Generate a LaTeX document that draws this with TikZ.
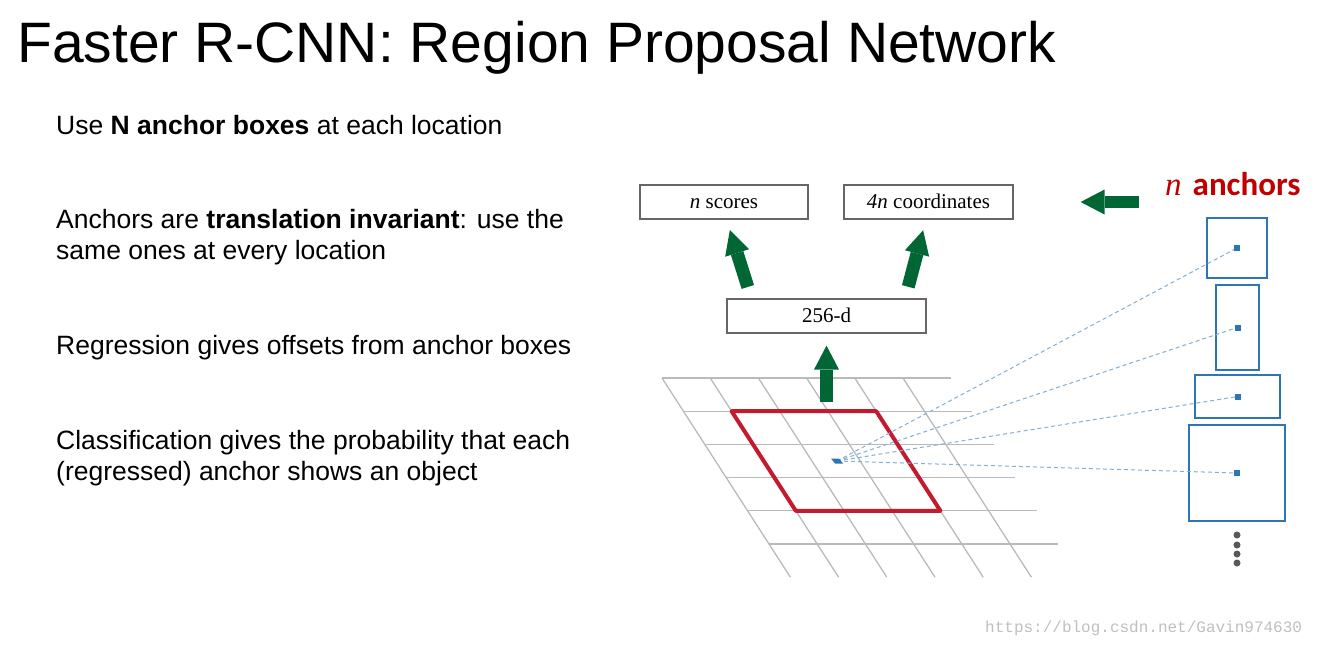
\documentclass[tikz,border=0pt]{standalone}
\usepackage{fontspec}
\setmainfont{Liberation Sans}
\newfontfamily\timesfont{Liberation Serif}
\newfontfamily\calibrifont{Carlito}
\newfontfamily\markfont{Liberation Mono}
\usepackage{tikz}
\usetikzlibrary{arrows.meta}
\usetikzlibrary{calc}
\definecolor{arrowgreen}{RGB}{0,102,51}
\definecolor{anchorred}{RGB}{192,0,0}
\definecolor{boxblue}{RGB}{46,117,182}
\definecolor{gridred}{RGB}{196,26,48}
\definecolor{dashblue}{RGB}{130,175,210}
\tikzset{
 outbox/.style={draw=black!60,line width=1.2pt,minimum height=34pt,inner sep=0pt,
  text height=14pt,text depth=2pt,font=\timesfont\fontsize{21}{24}\selectfont},
 anchorbox/.style={draw=boxblue,line width=1.5pt,inner sep=0pt},
 fatarrow/.style={draw=arrowgreen,line width=13pt,
  -{Triangle[width=25pt,length=24pt,line width=0pt]}},
 txt/.style={anchor=base west,inner sep=0pt,font=\fontsize{26.5}{31}\selectfont},
 gridline/.style={draw=black!27,line width=1.3pt}
}
\begin{document}
\begin{tikzpicture}[x=1pt,y=-1pt]
 \useasboundingbox (0,0) rectangle (1317,646);
 % title and bullet text
 \node[anchor=base west,inner sep=0pt,font=\fontsize{57}{60}\selectfont] (title) at (17,62) {Faster R-CNN: Region Proposal Network};
 \node[txt] (l1) at (56,134.5) {Use \textbf{N anchor boxes} at each location};
 \node[txt] (l2) at (56,228.5) {Anchors are \textbf{translation invariant}: use the};
 \node[txt] (l3) at (56,259.5) {same ones at every location};
 \node[txt] (l4) at (56,354.5) {Regression gives offsets from anchor boxes};
 \node[txt] (l5) at (56,449.5) {Classification gives the probability that each};
 \node[txt] (l6) at (56,480.5) {(regressed) anchor shows an object};

 % feature map
 \foreach \v in {0,...,5}
  \draw[gridline] ({662+21.4*\v},{378+33.2*\v}) -- ++(289,0);
 \foreach \u in {0,...,5}
  \draw[gridline] ({662+48.2*\u},378) -- ++(128.4,199.2);
 \draw[gridred,line width=4pt,line join=round] (731.6,411.2) -- (876.2,411.2) -- (940.4,510.8) -- (795.8,510.8) -- cycle;

 % anchor boxes
 \node[anchorbox,minimum width=60pt,minimum height=60pt] (a1) at (1237,248) {};
 \node[anchorbox,minimum width=43pt,minimum height=85pt] (a2) at (1237.5,327.5) {};
 \node[anchorbox,minimum width=85pt,minimum height=43pt] (a3) at (1237.5,396.5) {};
 \node[anchorbox,minimum width=96pt,minimum height=96pt] (a4) at (1237,473) {};
 \coordinate (ctr) at (837,461);
 \foreach \a in {a1,a2,a3,a4}
  \draw[dashblue,line width=1pt,dash pattern=on 4pt off 3pt] (ctr) -- (\a.center);
 \foreach \a in {a1,a2,a3,a4}
  \fill[boxblue] ($(\a.center)+(-3,-3)$) rectangle ++(6,6);
 \fill[boxblue] (831,458.5) -- (839,458.5) -- (843,463.5) -- (835,463.5) -- cycle;
 \foreach \y in {535,545,554,563}
  \fill[black!65] (1237,\y) circle (3.5pt);

 % outputs
 \node[outbox,minimum width=168pt] (scores) at (724,202) {\textit{n} scores};
 \node[outbox,minimum width=169pt] (coords) at (928.5,202) {\textit{4n} coordinates};
 \node[outbox,minimum width=199pt] (dim) at (826.5,316) {256-d};
 \draw[fatarrow,shorten <=12pt,shorten >=11pt] ($(dim.north west)!0.125!(dim.north east)$) -- ($(scores.south west)!0.515!(scores.south east)$);
 \draw[fatarrow,shorten <=12pt,shorten >=11pt] ($(dim.north west)!0.893!(dim.north east)$) -- ($(coords.south west)!0.485!(coords.south east)$);
 \coordinate (cell) at (826.5,402);
 \draw[fatarrow,shorten >=12pt] (cell) -- (dim.south);

 \node[anchor=base west,inner sep=0pt,text=anchorred] (nanch) at (1165,195)
  {\fontsize{33}{36}\selectfont{\timesfont\itshape n}\hspace{11pt}{\calibrifont\bfseries anchors}};
 \draw[fatarrow,line width=12pt,shorten >=67pt] ($(coords.east)+(125,0)$) -- (coords.east);

 \node[anchor=base west,inner sep=0pt,text=black!25,font=\markfont\fontsize{16}{18}\selectfont] (mark) at (985,632) {https://blog.csdn.net/Gavin974630};
\end{tikzpicture}
\end{document}
